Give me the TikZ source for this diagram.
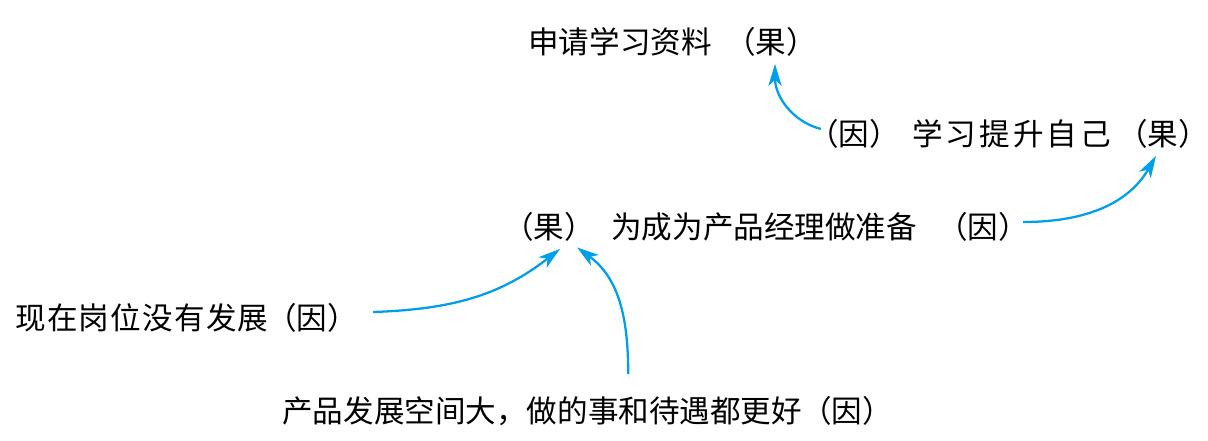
\documentclass[tikz,border=0pt]{standalone}
\usepackage{fontspec}
\usepackage{tikz}
\usetikzlibrary{arrows.meta,calc}
\newfontfamily\cjk{Noto Sans CJK SC}
\definecolor{arrblue}{RGB}{0,160,233}

\begin{document}
\begin{tikzpicture}[x=0.02cm,y=-0.02cm,
  txt/.style={inner sep=0pt,font=\cjk\fontsize{17.4}{20}\selectfont},
  arr/.style={draw=arrblue,line width=1.3pt,-{Stealth[length=12.5pt,width=7.5pt,inset=3.5pt]}}]
\useasboundingbox (0,0) rectangle (1208,440);
\node[txt,anchor=west] (apply) at (528,42) {申请学习资料};
\node[txt] (applye) at (771,42) {（果）};
\node[txt] (studyc) at (854,134) {（因）};
\node[txt,anchor=west] (study) at (912,134) {\addfontfeature{LetterSpace=10}学习提升自己};
\node[txt] (studye) at (1163,134) {（果）};
\node[txt] (prepe) at (549,227) {（果）};
\node[txt,anchor=west] (prep) at (611,227) {为成为产品经理做准备};
\node[txt] (prepc) at (983,227) {（因）};
\node[txt,anchor=west] (now) at (15,318) {\addfontfeature{LetterSpace=4}现在岗位没有发展};
\node[txt] (nowc) at (312,318) {（因）};
\node[txt,anchor=west] (space) at (282,411) {产品发展空间大，做的事和待遇都更好};
\node[txt] (spacec) at (847,411) {（因）};
\draw[arr] ($(studyc.west)+(13,-5)$) to[out=165,in=-90] ($(applye.south)+(4,7)$);
\draw[arr] ($(prepc.east)+(-6,-5)$) to[out=0,in=-120] ($(studye.south)+(-7,7)$);
\draw[arr] ($(nowc.east)+(15,-6)$) to[out=2,in=-142] ($(prepe.south)+(11,7)$);
\draw[arr] ($(space.north)+(86,-22)$) to[out=90,in=-36] ($(prepe.south)+(28,5.5)$);
\end{tikzpicture}
\end{document}
